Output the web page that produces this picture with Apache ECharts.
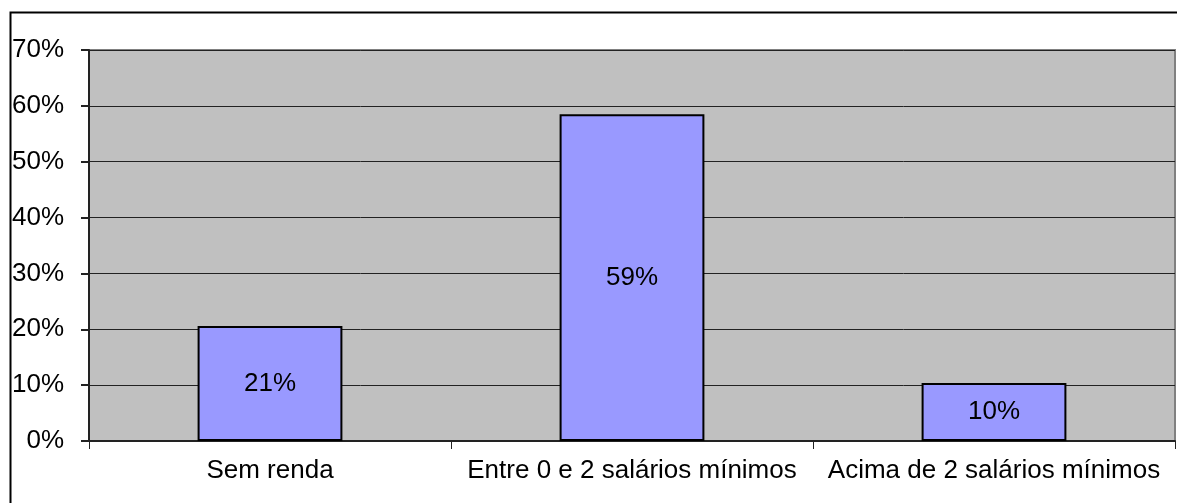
<!DOCTYPE html>
<html>
<head>
<meta charset="utf-8">
<style>
  html, body { margin: 0; padding: 0; background: #fff; }
  #chart { width: 1177px; height: 503px; }
</style>
<script src="https://cdn.jsdelivr.net/npm/echarts@6/dist/echarts.min.js"></script>
</head>
<body>
<div id="chart"></div>
<script>
var categories = ['Sem renda', 'Entre 0 e 2 salários mínimos', 'Acima de 2 salários mínimos'];
var values = [20.6, 58.5, 10.4];
var y_ticks = [0, 10, 20, 30, 40, 50, 60, 70];

var chart = echarts.init(document.getElementById('chart'));

var font = 'Liberation Sans, Arial, sans-serif';

var option = {
    animation: false,
    graphic: [{
        type: 'rect',
        shape: { x: 10.5, y: 12.5, width: 1200, height: 600 },
        style: { fill: 'none', stroke: '#000', lineWidth: 2 },
        z: 0
    }],
    grid: {
        left: 89, top: 50, width: 1086, height: 391,
        show: true,
        backgroundColor: '#c0c0c0',
        borderColor: '#808080',
        borderWidth: 2
    },
    xAxis: {
        type: 'category',
        data: categories,
        axisLine: { lineStyle: { color: '#222', width: 2 } },
        axisTick: { show: true, alignWithLabel: false, length: 8, lineStyle: { color: '#222' } },
        axisLabel: {
            color: '#000', fontSize: 26, fontFamily: font, margin: 17,
            interval: 0, hideOverlap: false
        }
    },
    yAxis: {
        type: 'value',
        min: 0, max: 70, interval: 10,
        axisLine: { show: true, lineStyle: { color: '#222', width: 2 } },
        axisTick: { show: true, length: 8, lineStyle: { color: '#222', width: 2 } },
        splitLine: { lineStyle: { color: '#222', width: 1 } },
        axisLabel: {
            color: '#000', fontSize: 26, fontFamily: font, margin: 25,
            formatter: function (v) { return y_ticks.indexOf(v) >= 0 ? v + '%' : ''; }
        }
    },
    series: [{
        type: 'bar',
        data: values,
        barWidth: '40%',
        itemStyle: { color: '#9999ff', borderColor: '#000', borderWidth: 2 },
        label: {
            show: true,
            position: 'inside',
            color: '#000',
            fontSize: 26,
            fontFamily: font,
            formatter: function (p) { return Math.round(p.value) + '%'; }
        }
    }]
};

chart.setOption(option);
</script>
</body>
</html>
